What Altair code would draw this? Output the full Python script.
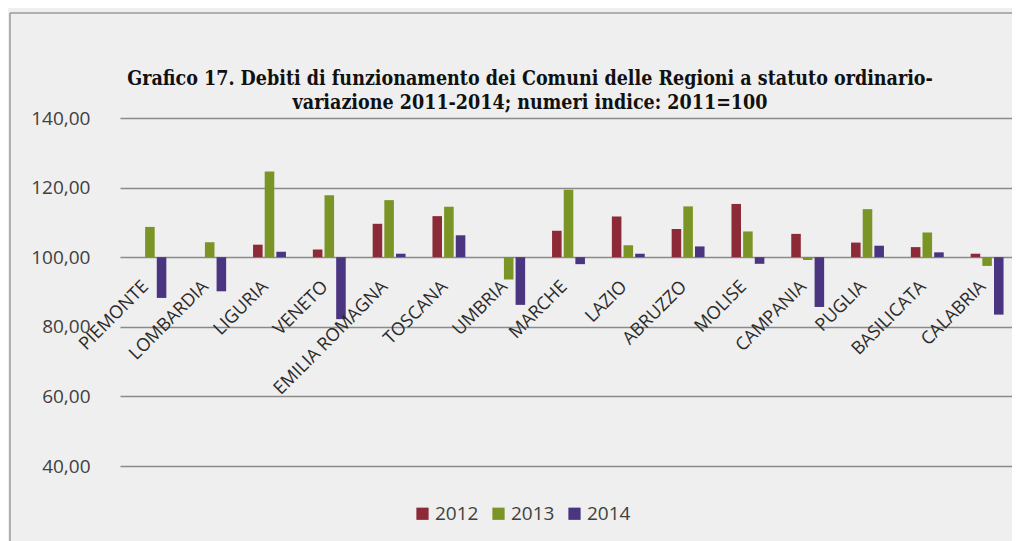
import altair as alt
import pandas as pd

regions = ["PIEMONTE", "LOMBARDIA", "LIGURIA", "VENETO", "EMILIA ROMAGNA", "TOSCANA",
           "UMBRIA", "MARCHE", "LAZIO", "ABRUZZO", "MOLISE", "CAMPANIA", "PUGLIA",
           "BASILICATA", "CALABRIA"]
years = ["2012", "2013", "2014"]
v2012 = [100.0, 100.0, 103.6, 102.2, 109.6, 111.8, 100.0, 107.6, 111.7, 108.1, 115.3, 106.7, 104.2, 102.9, 101.0]
v2013 = [108.7, 104.3, 124.6, 117.8, 116.4, 114.5, 93.6, 119.4, 103.4, 114.6, 107.4, 99.2, 113.8, 107.1, 97.5]
v2014 = [88.3, 90.2, 101.6, 82.2, 101.0, 106.3, 86.3, 98.0, 101.0, 103.1, 98.1, 85.7, 103.3, 101.4, 83.5]
y_ticks = [40, 60, 80, 100, 120, 140]
colors = ["#8c2b37", "#7b9426", "#4a3580"]

title_line1 = "Grafico 17. Debiti di funzionamento dei Comuni delle Regioni a statuto ordinario-"
title_line2 = "variazione 2011-2014; numeri indice: 2011=100"

rows = []
for yr, vals in zip(years, [v2012, v2013, v2014]):
    for r, v in zip(regions, vals):
        rows.append({"region": r, "year": yr, "value": v})
df = pd.DataFrame(rows)
lab_df = pd.DataFrame({"region": regions})

W, H = 897, 348
FONT = "Open Sans"
TFONT = "DejaVu Serif Condensed"

xscale = alt.Scale(domain=regions, range=[5, W + 5], paddingInner=0.45, paddingOuter=0.225)
yscale = alt.Scale(domain=[40, 140], nice=False, zero=False)

bars = alt.Chart(df).mark_bar().encode(
    x=alt.X("region:N", sort=regions, scale=xscale, axis=None),
    xOffset=alt.XOffset("year:N", sort=years, scale=alt.Scale(paddingInner=0.18, paddingOuter=0)),
    y=alt.Y("value:Q", scale=yscale,
            axis=alt.Axis(values=y_ticks, title=None, domain=False, ticks=False,
                          grid=True, gridColor="#8a8a8a", gridWidth=1.5,
                          labelExpr="replace(format(datum.value, '.2f'), '.', ',')",
                          labelFont=FONT, labelFontSize=19, labelColor="#404040",
                          labelPadding=25)),
    y2=alt.datum(100),
    color=alt.Color("year:N", sort=years,
                    scale=alt.Scale(domain=years, range=colors),
                    title=None,
                    legend=alt.Legend(orient="none", legendX=298, legendY=386,
                                      direction="horizontal", symbolType="square",
                                      symbolSize=150, symbolStrokeWidth=0,
                                      labelFont=FONT, labelFontSize=19,
                                      labelColor="#404040", labelOffset=3,
                                      columnPadding=10)),
)

labels = alt.Chart(lab_df).mark_text(
    angle=315, align="right", baseline="middle", font=FONT, fontSize=18,
    color="#2b2b2b", xOffset=-4, yOffset=27,
).encode(
    x=alt.X("region:N", sort=regions, scale=xscale, axis=None),
    y=alt.datum(100),
    text="region:N",
)

one = pd.DataFrame({"k": [0]})
title1 = alt.Chart(one).mark_text(
    font=TFONT, fontSize=19.5, fontWeight="bold", color="#111111",
    align="center", baseline="middle",
).encode(x=alt.value(415), y=alt.value(-39), text=alt.value(title_line1))
title2 = alt.Chart(one).mark_text(
    font=TFONT, fontSize=19.5, fontWeight="bold", color="#111111",
    align="center", baseline="middle",
).encode(x=alt.value(415), y=alt.value(-15), text=alt.value(title_line2))

border_top = alt.Chart(one).mark_rule(color="#9a9a9a", strokeWidth=1.5).encode(
    x=alt.value(-105), x2=alt.value(920), y=alt.value(-105))
border_left = alt.Chart(one).mark_rule(color="#9a9a9a", strokeWidth=1.5).encode(
    x=alt.value(-105), y=alt.value(-105), y2=alt.value(430))

chart = alt.layer(bars, labels, title1, title2, border_top, border_left).properties(
    width=W, height=H,
    autosize=alt.AutoSizeParams(type="none"),
    padding={"left": 107, "top": 110, "right": 0, "bottom": 75},
    background="#efefef",
).configure_view(strokeWidth=0)

chart.save("out.html", embed_options={"renderer": "svg", "actions": False})
